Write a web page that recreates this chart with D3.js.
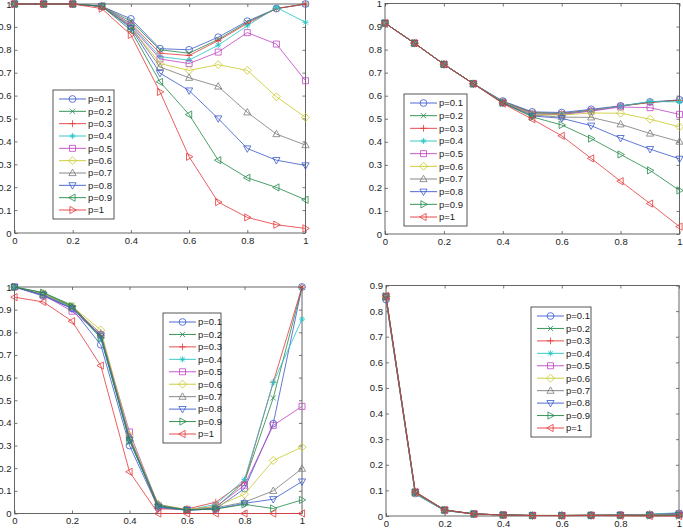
<!DOCTYPE html>
<html><head><meta charset="utf-8">
<script src="https://cdn.jsdelivr.net/npm/d3@7"></script>
<style>
html,body{margin:0;padding:0;background:#fff;}
svg{display:block;font-family:"Liberation Sans",Arial,Helvetica,sans-serif;}
</style></head>
<body>
<svg id="chart" width="683" height="528"></svg>
<script>
// ---- data ----
const xValues = [0,0.1,0.2,0.3,0.4,0.5,0.6,0.7,0.8,0.9,1];
const seriesLabels = ["p=0.1","p=0.2","p=0.3","p=0.4","p=0.5","p=0.6","p=0.7","p=0.8","p=0.9","p=1"];
const seriesColors = ["#3a5acc","#23894a","#e5393b","#25c4c4","#bf45c2","#c9c92a","#7a7a7a","#3a5acc","#23894a","#e5393b"];
const markersA = ["o","x","+","*","s","d","^","v","<",">"];
const markersBCD = ["o","x","+","*","s","d","^","v",">","<"];
const xTicks = [0,0.2,0.4,0.6,0.8,1];
const yTicks10 = [0,0.1,0.2,0.3,0.4,0.5,0.6,0.7,0.8,0.9,1];
const yTicks9 = [0,0.1,0.2,0.3,0.4,0.5,0.6,0.7,0.8,0.9];

const panelA = [
 [1,1,1,0.99,0.935,0.805,0.80,0.855,0.925,0.98,1],
 [1,1,1,0.99,0.925,0.80,0.785,0.845,0.92,0.98,1],
 [1,1,1,0.99,0.915,0.785,0.775,0.84,0.915,0.98,1],
 [1,1,1,0.99,0.91,0.77,0.755,0.82,0.905,0.985,0.92],
 [1,1,1,0.99,0.905,0.76,0.74,0.79,0.875,0.825,0.665],
 [1,1,1,0.99,0.90,0.74,0.71,0.735,0.71,0.595,0.505],
 [1,1,1,0.99,0.90,0.725,0.678,0.64,0.527,0.432,0.384],
 [1,1,1,0.99,0.895,0.698,0.622,0.50,0.369,0.318,0.295],
 [1,1,1,0.99,0.885,0.66,0.517,0.318,0.241,0.199,0.145],
 [1,1,1,0.98,0.865,0.616,0.333,0.135,0.068,0.036,0.02]
];
const panelB = [
 [0.915,0.828,0.736,0.652,0.577,0.53,0.527,0.541,0.556,0.573,0.582],
 [0.915,0.828,0.736,0.652,0.575,0.527,0.523,0.537,0.555,0.571,0.58],
 [0.915,0.828,0.736,0.652,0.574,0.525,0.522,0.536,0.555,0.571,0.58],
 [0.915,0.828,0.736,0.652,0.573,0.522,0.52,0.535,0.555,0.575,0.573],
 [0.915,0.828,0.736,0.652,0.572,0.52,0.518,0.533,0.551,0.548,0.519],
 [0.915,0.828,0.736,0.652,0.571,0.518,0.516,0.525,0.524,0.498,0.465],
 [0.915,0.828,0.736,0.652,0.57,0.516,0.507,0.506,0.476,0.436,0.401],
 [0.915,0.828,0.736,0.652,0.569,0.512,0.502,0.47,0.416,0.368,0.326],
 [0.915,0.828,0.736,0.652,0.568,0.508,0.473,0.414,0.345,0.276,0.189],
 [0.915,0.828,0.736,0.652,0.566,0.498,0.426,0.328,0.229,0.132,0.032]
];
const panelC = [
 [1,0.96,0.905,0.745,0.30,0.025,0.015,0.02,0.11,0.397,1],
 [1,0.975,0.92,0.78,0.33,0.03,0.015,0.025,0.14,0.51,1],
 [1,0.97,0.915,0.785,0.34,0.02,0.02,0.05,0.14,0.58,1],
 [1,0.97,0.91,0.775,0.335,0.03,0.015,0.04,0.15,0.578,0.858],
 [1,0.965,0.893,0.79,0.36,0.035,0.018,0.03,0.125,0.389,0.473],
 [1,0.97,0.915,0.81,0.345,0.04,0.018,0.03,0.085,0.234,0.293],
 [1,0.965,0.91,0.795,0.335,0.04,0.015,0.025,0.05,0.10,0.198],
 [1,0.965,0.905,0.785,0.325,0.03,0.015,0.02,0.045,0.063,0.141],
 [1,0.975,0.915,0.775,0.32,0.035,0.015,0.02,0.04,0.022,0.06],
 [0.955,0.934,0.849,0.653,0.184,0,0,0,0,0,0]
];
const panelD = [
 [0.845,0.088,0.022,0.008,0.004,0.002,0.002,0.003,0.004,0.006,0.010],
 [0.85,0.086,0.021,0.008,0.004,0.002,0.002,0.003,0.004,0.006,0.011],
 [0.852,0.088,0.022,0.008,0.004,0.002,0.002,0.003,0.004,0.006,0.010],
 [0.855,0.087,0.022,0.008,0.004,0.002,0.002,0.003,0.004,0.007,0.013],
 [0.855,0.09,0.023,0.008,0.004,0.002,0.002,0.003,0.004,0.005,0.008],
 [0.857,0.091,0.023,0.008,0.004,0.002,0.002,0.003,0.003,0.005,0.006],
 [0.857,0.092,0.023,0.008,0.004,0.002,0.002,0.003,0.003,0.004,0.005],
 [0.858,0.093,0.023,0.008,0.004,0.002,0.002,0.002,0.003,0.003,0.004],
 [0.858,0.094,0.024,0.008,0.004,0.002,0.002,0.002,0.002,0.002,0.002],
 [0.86,0.095,0.024,0.008,0.004,0.002,0.001,0.002,0.001,0,0]
];

// ---- layout ----
const panels = [
 {data:panelA, markers:markersA, yMax:1, yTicks:yTicks10, box:[14.5,305.5,4,233], legend:[53,90,61,129]},
 {data:panelB, markers:markersBCD, yMax:1, yTicks:yTicks10, box:[385,679.5,3.5,234], legend:[404,94,63,132]},
 {data:panelC, markers:markersBCD, yMax:1, yTicks:yTicks10, box:[14.5,302,287,513.5], legend:[163,313,58,130]},
 {data:panelD, markers:markersBCD, yMax:0.9, yTicks:yTicks9, box:[386,679,285.5,516], legend:[531,307,60,130]}
];

const svg = d3.select("#chart");
const fmt = d => d === 0 ? "0" : String(+d.toFixed(1));

function markerPath(type){
  const p = d3.path();
  const r = 3.4;
  switch(type){
    case "o": p.arc(0,0,r,0,2*Math.PI); break;
    case "x": p.moveTo(-2.6,-2.6);p.lineTo(2.6,2.6);p.moveTo(-2.6,2.6);p.lineTo(2.6,-2.6); break;
    case "+": p.moveTo(-3.4,0);p.lineTo(3.4,0);p.moveTo(0,-3.4);p.lineTo(0,3.4); break;
    case "*": p.moveTo(-3,0);p.lineTo(3,0);p.moveTo(0,-3);p.lineTo(0,3);
              p.moveTo(-2.2,-2.2);p.lineTo(2.2,2.2);p.moveTo(-2.2,2.2);p.lineTo(2.2,-2.2); break;
    case "s": p.rect(-3,-3,6,6); break;
    case "d": p.moveTo(0,-4);p.lineTo(4,0);p.lineTo(0,4);p.lineTo(-4,0);p.closePath(); break;
    case "^": p.moveTo(0,-3.8);p.lineTo(3.6,2.6);p.lineTo(-3.6,2.6);p.closePath(); break;
    case "v": p.moveTo(0,3.8);p.lineTo(3.6,-2.6);p.lineTo(-3.6,-2.6);p.closePath(); break;
    case ">": p.moveTo(3.8,0);p.lineTo(-2.6,3.6);p.lineTo(-2.6,-3.6);p.closePath(); break;
    case "<": p.moveTo(-3.8,0);p.lineTo(2.6,3.6);p.lineTo(2.6,-3.6);p.closePath(); break;
  }
  return p.toString();
}

panels.forEach(pn => {
  const [l,r,t,b] = pn.box;
  const x = d3.scaleLinear().domain([0,1]).range([l,r]);
  const y = d3.scaleLinear().domain([0,pn.yMax]).range([b,t]);
  const g = svg.append("g");

  // box
  g.append("rect").attr("x",l).attr("y",t).attr("width",r-l).attr("height",b-t)
    .attr("fill","#fff").attr("stroke","#555").attr("stroke-width",0.9);

  // axes (ticks inward) using d3 axes
  const axB = d3.axisBottom(x).tickValues(xTicks).tickFormat(fmt).tickSizeInner(-3).tickSizeOuter(0).tickPadding(4);
  const axT = d3.axisTop(x).tickValues(xTicks).tickFormat("").tickSizeInner(-3).tickSizeOuter(0);
  const axL = d3.axisLeft(y).tickValues(pn.yTicks).tickFormat(fmt).tickSizeInner(-3).tickSizeOuter(0).tickPadding(3);
  const axR = d3.axisRight(y).tickValues(pn.yTicks).tickFormat("").tickSizeInner(-3).tickSizeOuter(0);
  [[axB,`translate(0,${b})`],[axT,`translate(0,${t})`],[axL,`translate(${l},0)`],[axR,`translate(${r},0)`]].forEach(([ax,tr])=>{
    const a = g.append("g").attr("transform",tr).call(ax);
    a.select(".domain").remove();
    a.selectAll("line").attr("stroke","#555").attr("stroke-width",0.8);
    a.selectAll("text").attr("fill","#222").style("font-size","9.5px")
      .style("font-family","'Liberation Sans',Arial,sans-serif");
  });

  // series
  const line = d3.line().x((d,i)=>x(xValues[i])).y(d=>y(d));
  pn.data.forEach((vals,si)=>{
    const c = seriesColors[si];
    g.append("path").attr("d",line(vals)).attr("fill","none").attr("stroke",c)
      .attr("stroke-width",0.9).attr("stroke-opacity",0.9);
    g.selectAll(null).data(vals).enter().append("path")
      .attr("d",markerPath(pn.markers[si]))
      .attr("transform",(d,i)=>`translate(${x(xValues[i])},${y(d)})`)
      .attr("fill","none").attr("stroke",c).attr("stroke-width",0.8);
  });

  // legend
  const [lx,ly,lw,lh] = pn.legend;
  const lg = svg.append("g");
  lg.append("rect").attr("x",lx).attr("y",ly).attr("width",lw).attr("height",lh)
    .attr("fill","#fff").attr("stroke","#444").attr("stroke-width",0.9);
  const step = (lh-18)/9;
  seriesLabels.forEach((lab,si)=>{
    const yy = ly + 9 + si*step;
    const c = seriesColors[si];
    lg.append("line").attr("x1",lx+6).attr("x2",lx+33).attr("y1",yy).attr("y2",yy)
      .attr("stroke",c).attr("stroke-width",0.9);
    lg.append("path").attr("d",markerPath(pn.markers[si])).attr("transform",`translate(${lx+19.5},${yy})`)
      .attr("fill","none").attr("stroke",c).attr("stroke-width",0.8);
    lg.append("text").attr("x",lx+35).attr("y",yy).attr("dy","0.35em")
      .style("font-size","9.5px").attr("fill","#222").text(lab);
  });
});
</script>
</body></html>
